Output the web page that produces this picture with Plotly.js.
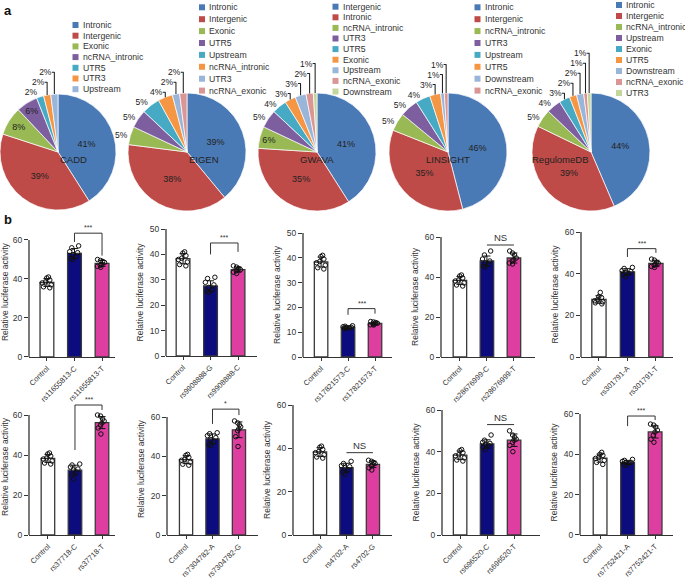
<!DOCTYPE html>
<html>
<head>
<meta charset="utf-8">
<script src="https://cdn.plot.ly/plotly-3.0.1.min.js"></script>
<style>
  html, body { margin: 0; padding: 0; background: #fff; }
  #fig { width: 685px; height: 579px; }
</style>
</head>
<body>
<div id="fig"></div>
<script>
// ---------- panel a: pie data ----------
const pieNames = ['CADD', 'EIGEN', 'GWAVA', 'LINSIGHT', 'RegulomeDB'];
const caddLabels = ['Intronic', 'Intergenic', 'Exonic', 'ncRNA_intronic', 'UTR5', 'UTR3', 'Upstream'];
const caddValues = [41, 39, 8, 6, 2, 2, 2];
const eigenLabels = ['Intronic', 'Intergenic', 'Exonic', 'UTR5', 'Upstream', 'ncRNA_intronic', 'UTR3', 'ncRNA_exonic'];
const eigenValues = [39, 38, 5, 5, 5, 4, 2, 2];
const gwavaLabels = ['Intergenic', 'Intronic', 'ncRNA_intronic', 'UTR3', 'UTR5', 'Exonic', 'Upstream', 'ncRNA_exonic', 'Downstream'];
const gwavaValues = [41, 35, 6, 5, 4, 3, 3, 2, 1];
const linsightLabels = ['Intronic', 'Intergenic', 'ncRNA_intronic', 'UTR3', 'Upstream', 'UTR5', 'Downstream', 'ncRNA_exonic'];
const linsightValues = [46, 35, 5, 5, 4, 3, 1, 1];
const regulomeLabels = ['Intronic', 'Intergenic', 'ncRNA_intronic', 'Upstream', 'Exonic', 'UTR5', 'Downstream', 'ncRNA_exonic', 'UTR3'];
const regulomeValues = [44, 39, 5, 4, 3, 2, 2, 1, 1];

// ---------- panel b: luciferase data ----------
const barCats = [
    ['Control', 'rs11655813-C', 'rs11655813-T'],
    ['Control', 'rs9908888-G', 'rs9908888-C'],
    ['Control', 'rs17821573-C', 'rs17821573-T'],
    ['Control', 'rs28676999-C', 'rs28676999-T'],
    ['Control', 'rs301791-A', 'rs301791-T'],
    ['Control', 'rs37718-C', 'rs37718-T'],
    ['Control', 'rs7304782-A', 'rs7304782-G'],
    ['Control', 'rs4702-A', 'rs4702-G'],
    ['Control', 'rs696520-C', 'rs696520-T'],
    ['Control', 'rs7752421-A', 'rs7752421-T']
];
const barMeans = [
    [38.2, 53.1, 48.0],
    [38.3, 27.6, 34.0],
    [38.3, 12.0, 13.5],
    [38.3, 48.0, 49.5],
    [27.6, 40.9, 44.9],
    [38.3, 32.4, 56.2],
    [38.3, 48.9, 53.5],
    [38.3, 31.1, 32.6],
    [38.3, 43.7, 45.5],
    [38.1, 36.0, 51.1]
];
const barSD = [
    [2, 2.5, 1.5], [2, 2, 1], [2, 0.5, 0.5], [2, 2.5, 2.5], [1.8, 1.5, 1.5],
    [2, 2.5, 3], [2, 2.5, 4], [2, 2, 1.5], [2, 2, 3], [2, 1, 3]
];
const ctrlDots = [41, 40.5, 39.5, 38.5, 38, 37, 36, 35.5];
const barDots = [
    [ctrlDots, [57, 56, 54, 53.5, 52.5, 51.5, 50.5, 50], [50, 49.5, 49, 48.5, 47.5, 47, 46.5, 46]],
    [ctrlDots, [31, 30.5, 29, 28, 27, 26, 25.5, 25], [35.5, 35, 34.5, 34, 34, 33.5, 33, 32.5]],
    [ctrlDots, [12.6, 12.4, 12.2, 12, 11.9, 11.8, 11.6, 11.5], [14.3, 14.1, 13.9, 13.6, 13.4, 13.2, 13, 12.9]],
    [ctrlDots, [53, 51, 49, 48, 47, 46.5, 45.5, 45], [53, 52, 51, 49.5, 48.5, 48, 47, 46.5]],
    [[31, 29, 28.5, 27.5, 27, 26.5, 26, 25.5], [43, 42.5, 41.5, 41, 40.5, 40, 39.5, 38.5], [47, 46.5, 45.5, 45, 44.5, 44, 43.5, 43]],
    [ctrlDots, [35.5, 35, 34, 33, 32.5, 31.5, 30, 28], [60, 59.5, 58, 57, 56, 55, 53.5, 50.5]],
    [ctrlDots, [52, 51.5, 50.5, 49.5, 48.5, 47.5, 46, 45.5], [58, 57, 56, 55, 54, 53, 50, 45]],
    [ctrlDots, [34, 33, 32, 31.5, 31, 30, 29, 28], [34.5, 34, 33.5, 33, 32.5, 32, 31, 30]],
    [ctrlDots, [48, 45.5, 44.5, 44, 43.5, 43, 42, 41], [50, 48, 47, 46, 45.5, 44.5, 43, 40]],
    [[41, 40, 39.5, 38.5, 38, 37, 36, 35], [37.5, 37, 36.5, 36, 36, 35.5, 35, 34.5], [55, 54.5, 53.5, 52, 51, 49.5, 47.5, 46]]
];
const yMaxes = [60, 50, 50, 60, 60, 60, 60, 60, 60, 60];
const yDticks = [20, 10, 10, 20, 20, 20, 20, 20, 20, 20];
const sigLabels = ['***', '***', '***', 'NS', '***', '***', '*', 'NS', 'NS', '***'];
const sigTops = [63.5, 44.5, 19.5, 56, 52, 65, 64, 38, 53, 59];
const sigLegs = [[59, 52], [40, 41], [17, 17.5], null, [48, 50], [42.5, 62.5], [56.5, 61], null, null, [54, 57]];

// ---------- look ----------
const W = 685, H = 579;
const FONT = 'Liberation Sans, Arial, sans-serif';
const pieColors = ['#4A7AB5', '#BE4B48', '#98B954', '#7D5FA0', '#46AAC5', '#F59645', '#9AB5DA', '#DA9694', '#C4D79B'];
const barColors = ['#ffffff', '#0c0c7e', '#dd3e9f'];
// pie centre x, centre y, radius (px)
const pieGeom = [[58, 152, 58], [187, 152, 59], [317, 152, 59], [448, 152, 59], [591, 152, 59]];
// legend square left x, first row y, row step (px)
const legendGeom = [[72.5, 25, 10.7], [199, 7.3, 11.9], [332.5, 6.7, 10.6], [474.5, 7.3, 11.9], [616, 5, 11]];
// bar panels: left, right, bottom, top-tick px, x range start, x range end
const panelGeom = [
    [29, 115, 357, 240, -0.65, 2.47],
    [166, 257, 356, 229, -0.62, 2.69],
    [303, 392, 357, 233, -0.67, 2.63],
    [441, 535, 357, 237, -0.70, 2.78],
    [581, 673, 357, 232, -0.63, 2.60],
    [29, 115, 535, 415, -0.70, 2.48],
    [167, 258, 535, 417, -0.72, 2.72],
    [293, 392, 535, 405, -1.02, 2.72],
    [442, 540, 535, 410, -0.67, 2.96],
    [580, 673, 535, 414, -0.73, 2.65]
];

const traces = [];
const shapes = [];
const annotations = [];
const layout = {
    width: W, height: H,
    margin: {l: 0, r: 0, t: 0, b: 0},
    paper_bgcolor: '#fff', plot_bgcolor: 'rgba(0,0,0,0)',
    showlegend: false,
    font: {family: FONT, size: 8.5, color: '#333'},
    shapes: shapes,
    annotations: annotations
};

// ---- pies ----
const pieLabels = [caddLabels, eigenLabels, gwavaLabels, linsightLabels, regulomeLabels];
const pieValues = [caddValues, eigenValues, gwavaValues, linsightValues, regulomeValues];

pieLabels.forEach((labels, i) => {
    const [cx, cy, r] = pieGeom[i];
    traces.push({
        type: 'pie',
        labels: labels,
        values: pieValues[i],
        sort: false,
        direction: 'clockwise',
        rotation: 0,
        domain: {x: [Math.max(0, (cx - r) / W), (cx + r) / W], y: [1 - (cy + r) / H, 1 - (cy - r) / H]},
        marker: {colors: pieColors.slice(0, labels.length), line: {color: '#fff', width: 0.7}},
        texttemplate: '%{value}%',
        textposition: pieValues[i].map(v => v >= 5 ? 'auto' : 'outside'),
        insidetextorientation: 'horizontal',
        insidetextfont: {family: FONT, size: 9, color: '#222'},
        outsidetextfont: {family: FONT, size: 8.5, color: '#222'},
        hoverinfo: 'label+value'
    });
    annotations.push({
        xref: 'paper', yref: 'paper', x: cx / W, y: 1 - cy / H,
        text: pieNames[i], showarrow: false,
        font: {size: 9.5, color: '#222'}
    });
    const [lx, ly, step] = legendGeom[i];
    labels.forEach((lab, k) => {
        const yc = ly + k * step;
        shapes.push({
            type: 'rect', xref: 'paper', yref: 'paper',
            x0: lx / W, x1: (lx + 6) / W, y0: 1 - (yc + 3) / H, y1: 1 - (yc - 3) / H,
            fillcolor: pieColors[k], line: {width: 0}
        });
        annotations.push({
            xref: 'paper', yref: 'paper', x: (lx + 8) / W, y: 1 - yc / H,
            xanchor: 'left', yanchor: 'middle', text: lab, showarrow: false,
            font: {size: 8.7, color: '#333'}
        });
    });
});

// ---- bar panels ----
barCats.forEach((cats, i) => {
    const n = i + 1;
    const sfx = n === 1 ? '' : String(n);
    const xa = 'x' + sfx, ya = 'y' + sfx;
    const [l, r, b, t, x0, x1] = panelGeom[i];
    const yMax = yMaxes[i];
    const scale = (b - t) / yMax;
    const yTop = Math.max(yMax, sigTops[i] + 3);
    const topPx = b - yTop * scale;

    traces.push({
        type: 'bar', x: [0, 1, 2], y: barMeans[i], width: 0.5,
        xaxis: xa, yaxis: ya,
        marker: {color: barColors, line: {color: '#3a3a3a', width: 1.3}},
        error_y: {type: 'data', array: barSD[i], color: '#111', thickness: 1, width: 3.5}
    });

    const dx = [], dy = [];
    barDots[i].forEach((grp, k) => grp.forEach(v => { dx.push(k); dy.push(v); }));
    traces.push({
        type: 'box', x: dx, y: dy, xaxis: xa, yaxis: ya,
        boxpoints: 'all', jitter: 0.8, pointpos: 0, width: 0.5,
        fillcolor: 'rgba(0,0,0,0)', line: {color: 'rgba(0,0,0,0)', width: 0},
        marker: {symbol: 'circle-open', size: 4.5, color: '#111', line: {width: 1}},
        hoveron: 'points'
    });

    const ticks = [];
    for (let v = 0; v <= yMax; v += yDticks[i]) ticks.push(v);

    layout['xaxis' + sfx] = {
        domain: [l / W, r / W], range: [x0, x1], anchor: ya,
        tickmode: 'array', tickvals: [0, 1, 2], ticktext: cats, tickangle: -45,
        ticks: 'outside', ticklen: 3, tickcolor: '#333',
        showline: true, linecolor: '#333', linewidth: 1.3,
        showgrid: false, zeroline: false, fixedrange: true,
        tickfont: {size: 7.5, color: '#333'}
    };
    layout['yaxis' + sfx] = {
        domain: [1 - b / H, 1 - topPx / H], range: [0, yTop], anchor: xa,
        tickmode: 'array', tickvals: ticks,
        ticks: 'outside', ticklen: 4, tickcolor: '#333',
        showline: false, showgrid: false, zeroline: false, fixedrange: true,
        tickfont: {size: 8.5, color: '#333'},
        title: {text: 'Relative luciferase activity', font: {size: 8.5, color: '#333'}, standoff: 4}
    };

    // y axis line only up to the top tick
    shapes.push({
        type: 'line', xref: xa + ' domain', yref: ya, x0: 0, x1: 0, y0: 0, y1: yMax,
        line: {color: '#333', width: 1.3}
    });

    // significance marks
    const top = sigTops[i];
    const legs = sigLegs[i];
    const sl = {color: '#333', width: 1};
    if (legs) {
        shapes.push({type: 'line', xref: xa, yref: ya, x0: 1, x1: 1, y0: legs[0], y1: top, line: sl});
        shapes.push({type: 'line', xref: xa, yref: ya, x0: 1, x1: 2, y0: top, y1: top, line: sl});
        shapes.push({type: 'line', xref: xa, yref: ya, x0: 2, x1: 2, y0: legs[1], y1: top, line: sl});
    } else {
        shapes.push({type: 'line', xref: xa, yref: ya, x0: 1, x1: 2, y0: top, y1: top, line: sl});
    }
    annotations.push({
        xref: xa, yref: ya, x: 1.5, y: top, yanchor: 'bottom',
        text: sigLabels[i], showarrow: false,
        font: {size: sigLabels[i] === 'NS' ? 9.5 : 7, color: '#333'}
    });
});

// panel letters
annotations.push({xref: 'paper', yref: 'paper', x: 2 / W, y: 1 - 1 / H, xanchor: 'left', yanchor: 'top',
    text: '<b>a</b>', showarrow: false, font: {size: 13, color: '#111'}});
annotations.push({xref: 'paper', yref: 'paper', x: 2 / W, y: 1 - 210 / H, xanchor: 'left', yanchor: 'top',
    text: '<b>b</b>', showarrow: false, font: {size: 13, color: '#111'}});

Plotly.newPlot('fig', traces, layout, {displayModeBar: false, responsive: false});
</script>
</body>
</html>
